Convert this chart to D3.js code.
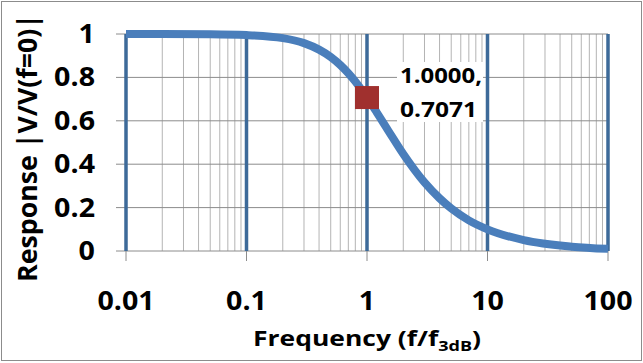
<!DOCTYPE html>
<html>
<head>
  <meta charset="utf-8">
  <script src="https://d3js.org/d3.v7.min.js"></script>
  <style>
    body { margin: 0; background: #fff; }
    text { font-family: "Open Sans", sans-serif; font-weight: bold; fill: #000; }
    .minor line { stroke: #b4b4b4; stroke-width: 1px; }
    .hgrid line { stroke: #8c8c8c; stroke-width: 1px; }
    .major line { stroke: #3d6a99; stroke-width: 3.5px; }
  </style>
</head>
<body>
  <svg id="chart"></svg>
  <script>

    // values
    var freq     = [0.01, 0.02, 0.05, 0.1, 0.2, 0.3, 0.4, 0.5, 0.6, 0.7, 0.8, 1, 1.2, 1.5, 2, 3, 4, 5, 7, 10, 20, 50, 100];
    var response = [1.0, 0.9998, 0.9988, 0.995, 0.981, 0.958, 0.928, 0.894, 0.857, 0.819, 0.781, 0.707, 0.640, 0.555, 0.447, 0.316, 0.243, 0.196, 0.141, 0.0995, 0.050, 0.020, 0.010];
    var xTicks = [0.01, 0.1, 1, 10, 100];
    var yTicks = [0, 0.2, 0.4, 0.6, 0.8, 1];
    var marker = {f: 1.0, v: 0.7071, label: ["1.0000,", "0.7071"]};

    var width = 643, height = 363;

    var svg = d3.select("#chart")
        .attr("width", width)
        .attr("height", height);

    svg.append("rect")
        .attr("x", 1.5).attr("y", 1.5)
        .attr("width", width - 3).attr("height", height - 4)
        .attr("fill", "#fff")
        .attr("stroke", "#8c8c8c");

    var x = d3.scaleLog().domain([0.01, 100]).range([126, 608]);
    var y = d3.scaleLinear().domain([0, 1]).range([251, 34]);

    // widen glyphs a bit, the original font is stretched
    function stretch(sel, k) {
      sel.each(function() {
        var w = this.getComputedTextLength();
        d3.select(this)
            .attr("textLength", w * k)
            .attr("lengthAdjust", "spacingAndGlyphs");
      });
    }

    // minor vertical grid 2..9 in each decade
    var minors = [];
    xTicks.slice(0, -1).forEach(function(d) {
      for (var k = 2; k <= 9; k++) minors.push(d * k);
    });

    svg.append("g").attr("class", "minor")
      .selectAll("line").data(minors).enter().append("line")
        .attr("x1", function(d) { return x(d); })
        .attr("x2", function(d) { return x(d); })
        .attr("y1", y(0)).attr("y2", y(1));

    // horizontal grid plus left ticks
    svg.append("g").attr("class", "hgrid")
      .selectAll("line").data(yTicks).enter().append("line")
        .attr("x1", x(0.01) - 10).attr("x2", x(100))
        .attr("y1", function(d) { return y(d); })
        .attr("y2", function(d) { return y(d); });

    // bottom ticks
    svg.append("g").attr("class", "hgrid")
      .selectAll("line").data(xTicks).enter().append("line")
        .attr("x1", function(d) { return x(d); })
        .attr("x2", function(d) { return x(d); })
        .attr("y1", y(0)).attr("y2", y(0) + 10);

    // data label box hides the grid behind it
    svg.append("rect")
        .attr("x", x(marker.f) + 30).attr("y", 62)
        .attr("width", 86).attr("height", 60)
        .attr("fill", "#fff");

    // heavy decade lines
    svg.append("g").attr("class", "major")
      .selectAll("line").data(xTicks).enter().append("line")
        .attr("x1", function(d) { return x(d); })
        .attr("x2", function(d) { return x(d); })
        .attr("y1", y(0)).attr("y2", y(1));

    var line = d3.line()
        .x(function(d, i) { return x(freq[i]); })
        .y(function(d) { return y(d); })
        .curve(d3.curveMonotoneX);

    svg.append("path")
        .datum(response)
        .attr("d", line)
        .attr("fill", "none")
        .attr("stroke", "#4a7ebb")
        .attr("stroke-width", 8)
        .attr("stroke-linecap", "butt");

    svg.append("rect")
        .attr("x", x(marker.f) - 12).attr("y", y(marker.v) - 11.5)
        .attr("width", 24).attr("height", 23)
        .attr("fill", "#a0302e");

    svg.append("g")
      .selectAll("text").data(marker.label).enter().append("text")
        .attr("x", x(marker.f) + 33)
        .attr("y", function(d, i) { return 83 + i * 34; })
        .attr("font-size", 22)
        .attr("textLength", function(d, i) { return i == 0 ? 82 : 77; })
        .attr("lengthAdjust", "spacingAndGlyphs")
        .text(function(d) { return d; });

    // tick labels
    svg.append("g")
      .selectAll("text").data(yTicks).enter().append("text")
        .attr("x", 95)
        .attr("y", function(d) { return y(d) + 9; })
        .attr("text-anchor", "end")
        .attr("font-size", 26)
        .text(function(d) { return d; })
        .call(stretch, 1.1);

    svg.append("g")
      .selectAll("text").data(xTicks).enter().append("text")
        .attr("x", function(d) { return x(d); })
        .attr("y", 310)
        .attr("text-anchor", "middle")
        .attr("font-size", 26)
        .text(function(d) { return d; })
        .call(stretch, 1.1);

    // axis titles
    var xt = svg.append("text")
        .attr("x", 253).attr("y", 346)
        .attr("font-size", 22)
        .attr("textLength", 228)
        .attr("lengthAdjust", "spacingAndGlyphs");
    xt.append("tspan").text("Frequency (f/f");
    xt.append("tspan").attr("font-size", 15).attr("dy", 5).text("3dB");
    xt.append("tspan").attr("dy", -5).text(")");

    svg.append("text")
        .attr("transform", "translate(37," + 282 + ") rotate(-90)")
        .attr("font-size", 26)
        .attr("textLength", 268)
        .attr("lengthAdjust", "spacingAndGlyphs")
        .text("Response |V/V(f=0)|");

  </script>
</body>
</html>
